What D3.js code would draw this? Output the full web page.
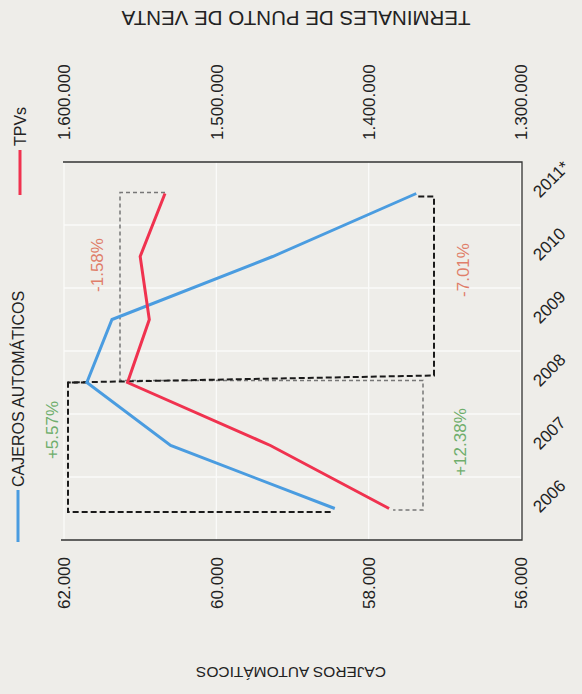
<!DOCTYPE html>
<html><head><meta charset="utf-8">
<script src="https://cdn.jsdelivr.net/npm/d3@7"></script>
<style>
html,body{margin:0;padding:0;background:#eeede9;}
svg{display:block;font-family:"Liberation Sans",Arial,Helvetica,sans-serif;}
</style></head>
<body>
<script>
// ---- data ----
const years = ["2006","2007","2008","2009","2010","2011*"];
const cajeros = [58445, 60600, 61700, 61370, 59260, 57375];
const tpvs = [1386600, 1464500, 1558300, 1544000, 1550000, 1533700];
const cajerosTicks = [62000, 60000, 58000, 56000];
const tpvTicks = [1600000, 1500000, 1400000, 1300000];
const seriesNames = ["CAJEROS AUTOMÁTICOS", "TPVs"];
const changeLabels = ["+5.57%", "-7.01%", "+12.38%", "-1.58%"];

const W = 582, H = 694;
const svg = d3.select("body").append("svg").attr("width", W).attr("height", H);
svg.append("rect").attr("width", W).attr("height", H).attr("fill", "#eeede9");

const pTop = 162, pBottom = 540, pLeft = 64, pRight = 521;
const y = d3.scalePoint(years, [pBottom, pTop]).padding(0.5);
const xC = d3.scaleLinear([56000, 62000], [pRight, pLeft]);
const xT = d3.scaleLinear([1300000, 1600000], [pRight, pLeft]);

const loc = d3.formatLocale({decimal: ",", thousands: ".", grouping: [3], currency: ["", ""]});
const fmt = loc.format(",d");

const BLUE = "#4a9ce0", RED = "#f0324f", GREEN = "#6fae6c", SALMON = "#e07e6a";

// gridlines (white)
const grid = svg.append("g").attr("stroke", "#ffffff").attr("stroke-width", 1.3).attr("opacity", 0.75);
cajerosTicks.forEach(t => grid.append("line").attr("x1", xC(t)).attr("x2", xC(t)).attr("y1", pTop).attr("y2", pBottom));
const step = y.step();
years.slice(1).forEach(yr => grid.append("line").attr("x1", pLeft).attr("x2", pRight)
  .attr("y1", y(yr) + step / 2).attr("y2", y(yr) + step / 2));

// frame
const frame = svg.append("g").attr("stroke", "#333").attr("stroke-width", 1.3).attr("fill", "none");
frame.append("path").attr("d", `M${pLeft-1},${pTop} H${pRight+1} V${pBottom} H${pLeft-3}`);

// bottom axis (cajeros)
const axB = svg.append("g").attr("transform", `translate(0,${pBottom})`)
  .call(d3.axisBottom(xC).tickValues(cajerosTicks).tickFormat(fmt).tickSize(0));
axB.select(".domain").remove();
axB.selectAll("text").attr("transform", "rotate(-90)").attr("x", -17).attr("y", 0)
  .attr("dy", "0.35em").attr("text-anchor", "end").attr("font-size", 17).attr("fill", "#222")
  .attr("font-family", "Liberation Sans, Arial, sans-serif");

// top axis (tpvs)
const axT = svg.append("g").attr("transform", `translate(0,${pTop})`)
  .call(d3.axisTop(xT).tickValues(tpvTicks).tickFormat(fmt).tickSize(0));
axT.select(".domain").remove();
axT.selectAll("text").attr("transform", "rotate(-90)").attr("x", 22).attr("y", 0)
  .attr("dy", "0.35em").attr("text-anchor", "start").attr("font-size", 17).attr("fill", "#222")
  .attr("font-family", "Liberation Sans, Arial, sans-serif");

// year labels
svg.append("g").selectAll("text").data(years).join("text")
  .attr("transform", d => `translate(540,${y(d) + 5}) rotate(-45)`)
  .attr("font-size", 17).attr("fill", "#222").text(d => d);

// axis titles (upside down)
svg.append("text").attr("transform", `translate(291,672) rotate(180)`)
  .attr("text-anchor", "middle").attr("dominant-baseline", "central")
  .attr("font-size", 15.5).attr("fill", "#222").text("CAJEROS AUTOMÁTICOS");
svg.append("text").attr("transform", `translate(296,18) rotate(180)`)
  .attr("text-anchor", "middle").attr("dominant-baseline", "central")
  .attr("font-size", 20.5).attr("fill", "#222").text("TERMINALES DE PUNTO DE VENTA");

// dashed brackets
const i06 = 0, i08 = 2, i11 = 5;
const yr = i => y(years[i]);
svg.append("path").attr("fill", "none").attr("stroke", "#777").attr("stroke-width", 1.5)
  .attr("stroke-dasharray", "4,3")
  .attr("d", `M${xT(tpvs[i11])},${yr(i11)-1} H120 V${yr(i08)-2} H423 V${yr(i06)+1.5} H${xT(tpvs[i06])+4}`);
svg.append("path").attr("fill", "none").attr("stroke", "#1a1a1a").attr("stroke-width", 2)
  .attr("stroke-dasharray", "6,3")
  .attr("d", `M${xC(cajeros[i08])},${yr(i08)} H68 V${yr(i06)+3.5} H${xC(cajeros[i06])-3}`);
svg.append("path").attr("fill", "none").attr("stroke", "#1a1a1a").attr("stroke-width", 2)
  .attr("stroke-dasharray", "6,3")
  .attr("d", `M${xC(cajeros[i11])+2},${yr(i11)+3} H434 V${yr(i08)-7} L68,${yr(i08)}`);

// lines
const lineC = d3.line().x(d => xC(d[1])).y(d => y(d[0]));
const lineT = d3.line().x(d => xT(d[1])).y(d => y(d[0]));
svg.append("path").datum(d3.zip(years, cajeros)).attr("fill", "none").attr("stroke", BLUE)
  .attr("stroke-width", 3).attr("d", lineC);
svg.append("path").datum(d3.zip(years, tpvs)).attr("fill", "none").attr("stroke", RED)
  .attr("stroke-width", 3).attr("d", lineT);

// change labels
const ann = [
  {t: changeLabels[0], x: 52, y: 430, c: GREEN},
  {t: changeLabels[1], x: 463, y: 270, c: SALMON},
  {t: changeLabels[2], x: 460, y: 442, c: GREEN},
  {t: changeLabels[3], x: 97, y: 265, c: SALMON}
];
svg.append("g").selectAll("text").data(ann).join("text")
  .attr("transform", d => `translate(${d.x},${d.y}) rotate(-90)`)
  .attr("text-anchor", "middle").attr("dominant-baseline", "central")
  .attr("font-size", 17).attr("fill", d => d.c).text(d => d.t);

// legend
svg.append("line").attr("x1", 18).attr("x2", 18).attr("y1", 490).attr("y2", 542)
  .attr("stroke", BLUE).attr("stroke-width", 3);
svg.append("text").attr("transform", "translate(18,487) rotate(-90)").attr("dominant-baseline", "central")
  .attr("font-size", 16).attr("fill", "#222").text(seriesNames[0]);
svg.append("line").attr("x1", 20).attr("x2", 20).attr("y1", 150).attr("y2", 195)
  .attr("stroke", RED).attr("stroke-width", 3);
svg.append("text").attr("transform", "translate(20,146) rotate(-90)").attr("dominant-baseline", "central")
  .attr("font-size", 16).attr("fill", "#222").text(seriesNames[1]);
</script>
</body></html>
